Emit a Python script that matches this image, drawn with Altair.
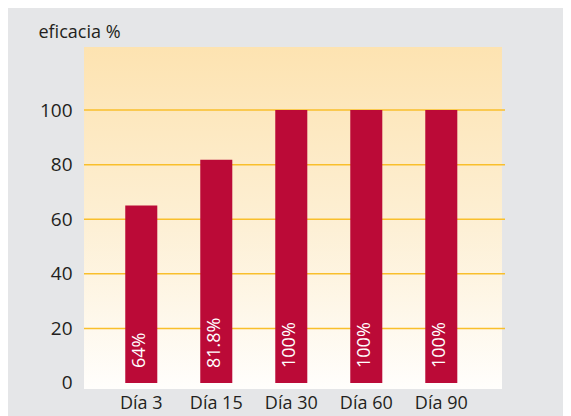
import altair as alt
import pandas as pd

categories = ["Día 3", "Día 15", "Día 30", "Día 60", "Día 90"]
values = [65, 81.8, 100, 100, 100]
labels = ["64%", "81.8%", "100%", "100%", "100%"]
grid_values = [20, 40, 60, 80, 100]
tick_values = [0, 20, 40, 60, 80, 100]

df = pd.DataFrame({"cat": categories, "val": values, "lab": labels})
grid_df = pd.DataFrame({"g": grid_values})

FONT = "Open Sans"
W, H = 418, 342
ydom = [-2.2, 123.1]

xenc = alt.X("cat:N", sort=categories,
             scale=alt.Scale(paddingInner=0.573, paddingOuter=0.573, align=0.48),
             axis=alt.Axis(title=None, labelAngle=0, domain=False, ticks=False,
                           labelFontSize=18, labelPadding=5, labelColor="#231f20",
                           labelFont=FONT))
yscale = alt.Scale(domain=ydom, nice=False, zero=False)

bg = alt.Chart(df).mark_rect(
    fill=alt.LinearGradient(
        gradient="linear", x1=0, y1=0, x2=0, y2=1,
        stops=[alt.GradientStop(offset=0, color="#fde3b1"),
               alt.GradientStop(offset=0.5, color="#fdefd3"),
               alt.GradientStop(offset=1, color="#fffefc")]),
).encode(x=alt.value(0), x2=alt.value(W), y=alt.value(0), y2=alt.value(H))

grid = alt.Chart(grid_df).mark_rule(color="#f9bf2c", strokeWidth=1.5).encode(
    y=alt.Y("g:Q", scale=yscale),
    x=alt.value(0), x2=alt.value(W + 3))

bars = alt.Chart(df).mark_bar(color="#bb0a37").encode(
    x=xenc,
    y=alt.Y("val:Q", scale=yscale,
            axis=alt.Axis(values=tick_values, grid=False, domain=False, ticks=False,
                          labelFontSize=19, labelPadding=12, labelColor="#231f20",
                          labelFont=FONT,
                          title="eficacia %", titleAngle=0, titleAlign="left",
                          titleBaseline="alphabetic", titleX=-46, titleY=-10,
                          titleFontSize=18, titleFontWeight="normal",
                          titleColor="#231f20", titleFont=FONT)),
    y2=alt.datum(0))

text = alt.Chart(df).mark_text(
    angle=270, align="left", baseline="middle", dx=15, dy=-1.5,
    color="white", fontSize=18, font=FONT
).encode(x=alt.X("cat:N", sort=categories), y=alt.datum(0), text="lab:N")

chart = alt.layer(bg, grid, bars, text).properties(
    width=W, height=H,
    background="#e5e6e8",
    padding={"left": 76, "top": 39, "right": 61, "bottom": 27},
    autosize=alt.AutoSizeParams(type="none"),
).configure_view(stroke=None)

chart.save("out.html", embed_options={"renderer": "svg", "actions": False})
